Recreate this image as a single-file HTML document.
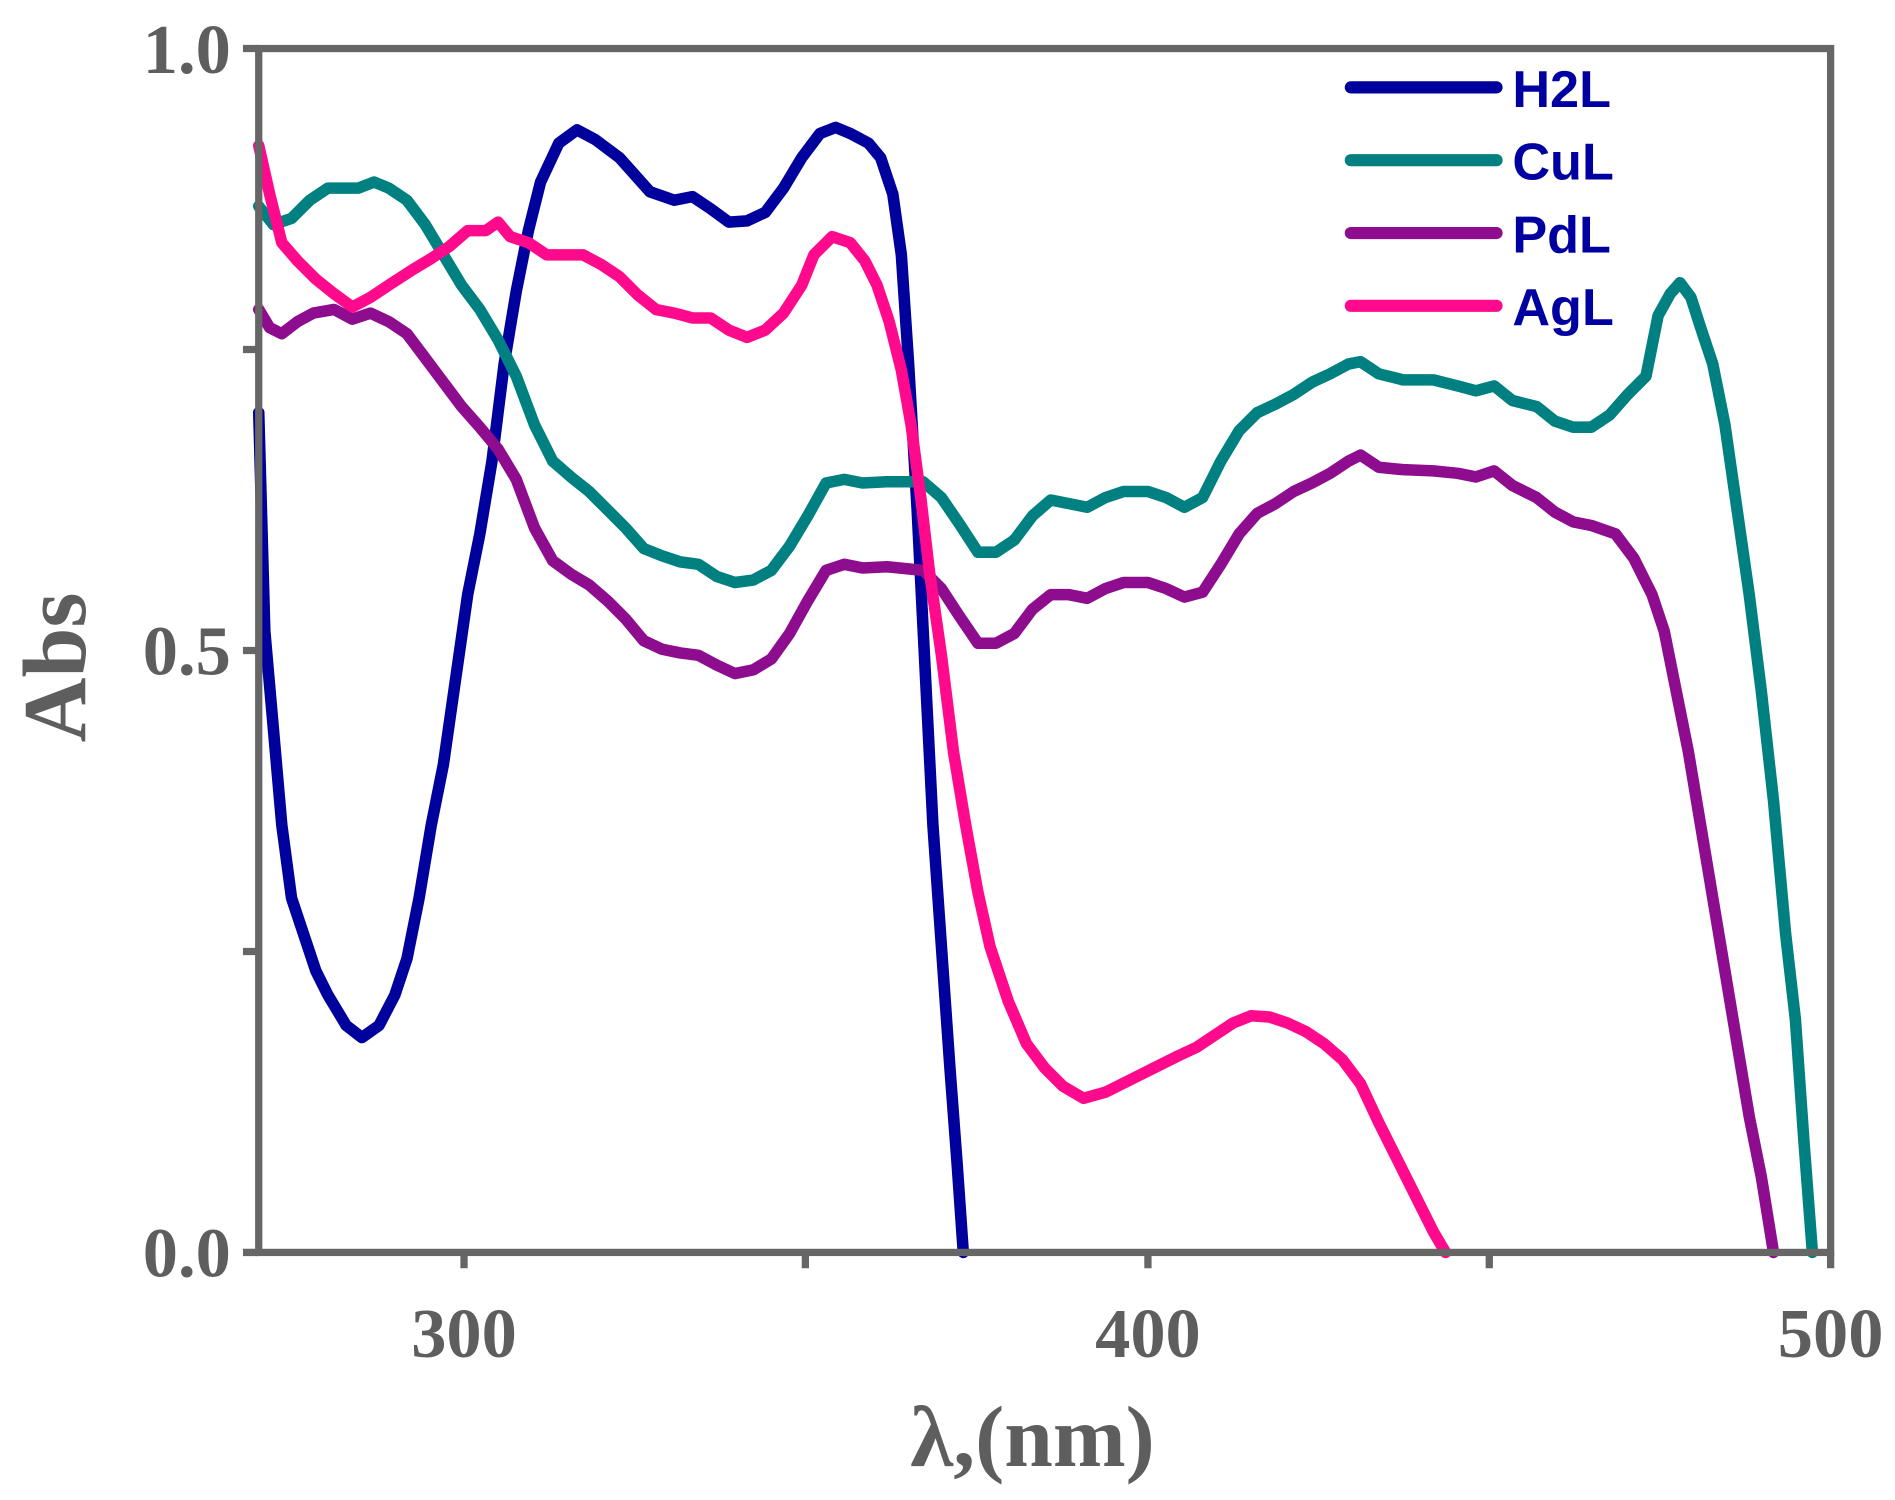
<!DOCTYPE html>
<html><head><meta charset="utf-8"><style>html,body{margin:0;padding:0;background:#fff}svg{display:block}</style></head>
<body>
<svg width="1895" height="1500" viewBox="0 0 1560 1236" preserveAspectRatio="none" xmlns="http://www.w3.org/2000/svg">
<g fill="none" stroke-linecap="round" stroke-linejoin="round" stroke-width="9.5">
<polyline stroke="#00009C" points="213,340 218,520 225,600 232,680 240,740 250,770 260,800 270,820 285,845 298,855 312,845 325,820 335,790 345,740 355,680 365,630 375,560 385,490 395,440 405,380 415,300 425,240 435,190 445,150 460,118 475,107 490,115 510,130 535,158 555,165 570,162 585,172 600,183 615,182 630,175 645,155 660,130 675,110 688,105 700,110 715,118 725,130 735,160 742,210 748,300 755,420 762,560 768,680 775,780 782,880 788,960 793,1032"/>
<polyline stroke="#008080" points="213,170 225,185 240,180 255,165 270,155 282,155 295,155 308,150 320,155 335,165 350,185 365,210 380,235 395,255 410,280 425,310 440,350 455,380 470,393 485,405 500,420 515,435 530,452 545,458 560,463 575,465 590,475 605,480 620,478 635,470 650,450 665,425 680,398 695,395 710,398 730,397 760,397 775,410 790,432 805,455 820,455 835,445 850,425 865,412 880,415 895,418 910,410 925,405 945,405 960,410 975,418 990,410 1005,380 1020,355 1035,340 1050,333 1065,325 1080,315 1095,308 1110,300 1120,298 1135,308 1155,313 1180,313 1200,318 1215,322 1230,318 1245,330 1265,335 1280,347 1295,352 1310,352 1325,342 1340,325 1355,310 1365,260 1375,242 1383,233 1392,245 1400,270 1410,300 1420,350 1430,420 1440,490 1450,570 1460,660 1470,770 1478,840 1485,940 1492,1032"/>
<polyline stroke="#8E0C8E" points="213,255 222,270 232,275 245,265 258,258 275,255 290,263 305,258 320,265 335,275 350,295 365,315 380,335 395,352 410,370 425,395 440,435 455,462 470,473 485,482 500,495 515,510 530,528 545,535 560,538 575,540 590,548 605,555 620,552 635,543 650,522 665,495 680,470 695,465 710,468 730,467 760,470 775,485 790,508 805,530 820,530 835,522 850,502 865,490 880,490 895,493 910,485 925,480 945,480 960,485 975,492 990,488 1005,465 1020,440 1035,423 1050,415 1065,405 1080,398 1095,390 1110,380 1120,375 1135,385 1155,387 1180,388 1200,390 1215,393 1230,388 1245,400 1265,410 1280,422 1295,430 1310,433 1330,440 1345,460 1360,490 1370,520 1380,570 1390,620 1400,680 1410,740 1420,800 1430,860 1440,920 1450,970 1460,1032"/>
<polyline stroke="#FF0A8C" points="213,120 222,160 232,200 245,215 260,230 275,242 290,253 305,245 320,235 340,222 355,213 370,203 385,190 400,190 410,183 420,195 435,200 450,210 465,210 480,210 495,218 510,228 525,243 540,255 555,258 570,262 585,262 600,272 615,278 630,272 645,258 660,235 670,210 685,195 700,200 712,215 722,235 732,265 742,305 750,350 758,410 765,470 775,540 785,620 795,680 805,735 815,780 830,825 845,860 860,880 875,895 892,905 910,900 930,890 950,880 970,870 985,863 1000,853 1015,843 1030,837 1045,838 1060,843 1075,850 1090,860 1105,873 1120,893 1135,925 1150,955 1165,985 1180,1015 1190,1032"/>
</g>
<g stroke="#666" stroke-width="6" fill="none">
<rect x="213" y="40" width="1294" height="992"/>
<path d="M200,40H213M200,288H213M200,536H213M200,784H213M200,1032H213M382,1032V1045M663,1032V1045M945,1032V1045M1226,1032V1045M1507,1032V1045"/>
</g>
<g font-family="Liberation Serif, serif" font-weight="bold" fill="#5e5e5e" font-size="58">
<text x="190" y="60" text-anchor="end">1.0</text>
<text x="190" y="556" text-anchor="end">0.5</text>
<text x="190" y="1052" text-anchor="end">0.0</text>
<text x="382" y="1118" text-anchor="middle">300</text>
<text x="945" y="1118" text-anchor="middle">400</text>
<text x="1507" y="1118" text-anchor="middle">500</text>
<text x="850" y="1208" text-anchor="middle" font-size="72">λ,(nm)</text>
<text transform="translate(70,550) rotate(-90)" text-anchor="middle" font-size="74">Abs</text>
</g>
<g stroke-width="10" stroke-linecap="round">
<line x1="1112" y1="72" x2="1232" y2="72" stroke="#00009C"/>
<line x1="1112" y1="132" x2="1232" y2="132" stroke="#008080"/>
<line x1="1112" y1="192" x2="1232" y2="192" stroke="#8E0C8E"/>
<line x1="1112" y1="252" x2="1232" y2="252" stroke="#FF0A8C"/>
</g>
<g font-family="Liberation Sans, sans-serif" font-weight="bold" fill="#0000A0" font-size="43">
<text x="1245" y="88">H2L</text>
<text x="1245" y="148">CuL</text>
<text x="1245" y="208">PdL</text>
<text x="1245" y="268">AgL</text>
</g>
</svg>
</body></html>
